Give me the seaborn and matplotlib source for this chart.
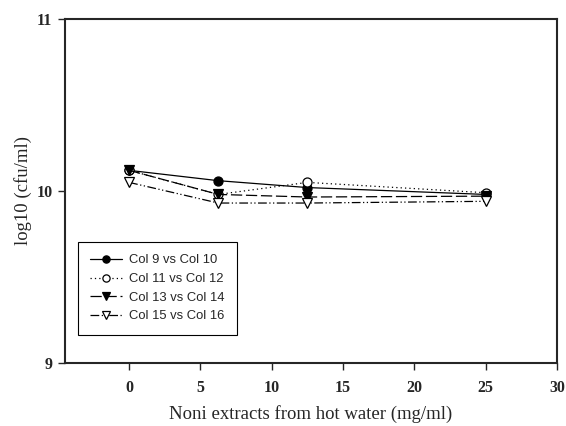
import numpy as np
import pandas as pd
import matplotlib
matplotlib.use('Agg')
import matplotlib.pyplot as plt
import seaborn as sns

# concentrations (mg/ml)
conc = [0, 6.25, 12.5, 25]
col_9_10 = [10.12, 10.06, 10.02, 9.98]
col_11_12 = [10.12, 9.98, 10.05, 9.99]
col_13_14 = [10.12, 9.98, 9.965, 9.97]
col_15_16 = [10.05, 9.93, 9.93, 9.94]
labels = ['Col 9 vs Col 10', 'Col 11 vs Col 12', 'Col 13 vs Col 14', 'Col 15 vs Col 16']

sns.set_style('ticks')
plt.rcParams['font.family'] = ['Liberation Serif', 'DejaVu Serif']

fig = plt.figure(figsize=(5.66, 4.26), dpi=100)
ax = fig.add_axes([0.1148, 0.1479, 0.984 - 0.1148, 0.9554 - 0.1479])

styles = [
    dict(marker='o', mfc='black', ls='-'),
    dict(marker='o', mfc='white', dashes=(1, 2.5)),
    dict(marker='v', mfc='black', dashes=(9, 3)),
    dict(marker='v', mfc='white', dashes=(7, 2, 1, 2, 1, 2)),
]
for vals, lab, st in zip([col_9_10, col_11_12, col_13_14, col_15_16], labels, styles):
    sns.lineplot(x=conc, y=vals, ax=ax, color='black', label=lab, lw=0.9,
                 ms=6.5, mec='black', mew=0.9, **st)

ax.set_xlim(-4.5, 30)
ax.set_ylim(9, 11)
ax.set_xticks([0, 5, 10, 15, 20, 25, 30])
ax.set_yticks([9, 10, 11])
for lbl in ax.get_xticklabels() + ax.get_yticklabels():
    lbl.set_fontweight('bold')
    lbl.set_fontsize(11.5)
ax.tick_params(axis='x', direction='out', length=5, width=1, pad=7)
ax.tick_params(axis='y', direction='out', length=5, width=1, pad=4)

for sp in ax.spines.values():
    sp.set_visible(True)
    sp.set_linewidth(1.5)

ax.set_xlabel('Noni extracts from hot water (mg/ml)', fontsize=13.5, labelpad=7)
ax.set_ylabel('log10 (cfu/ml)', fontsize=13.5, labelpad=3)

leg = ax.legend(loc='upper left', bbox_to_anchor=(0.026, 0.352), borderaxespad=0,
                frameon=True, framealpha=1, fancybox=False, edgecolor='black',
                prop={'family': 'Liberation Sans', 'size': 9.4},
                handlelength=2.4, handletextpad=0.6, borderpad=0.95,
                labelspacing=0.5, markerscale=0.8)
leg.get_frame().set_linewidth(0.8)

fig.savefig('out.png', dpi=100)
